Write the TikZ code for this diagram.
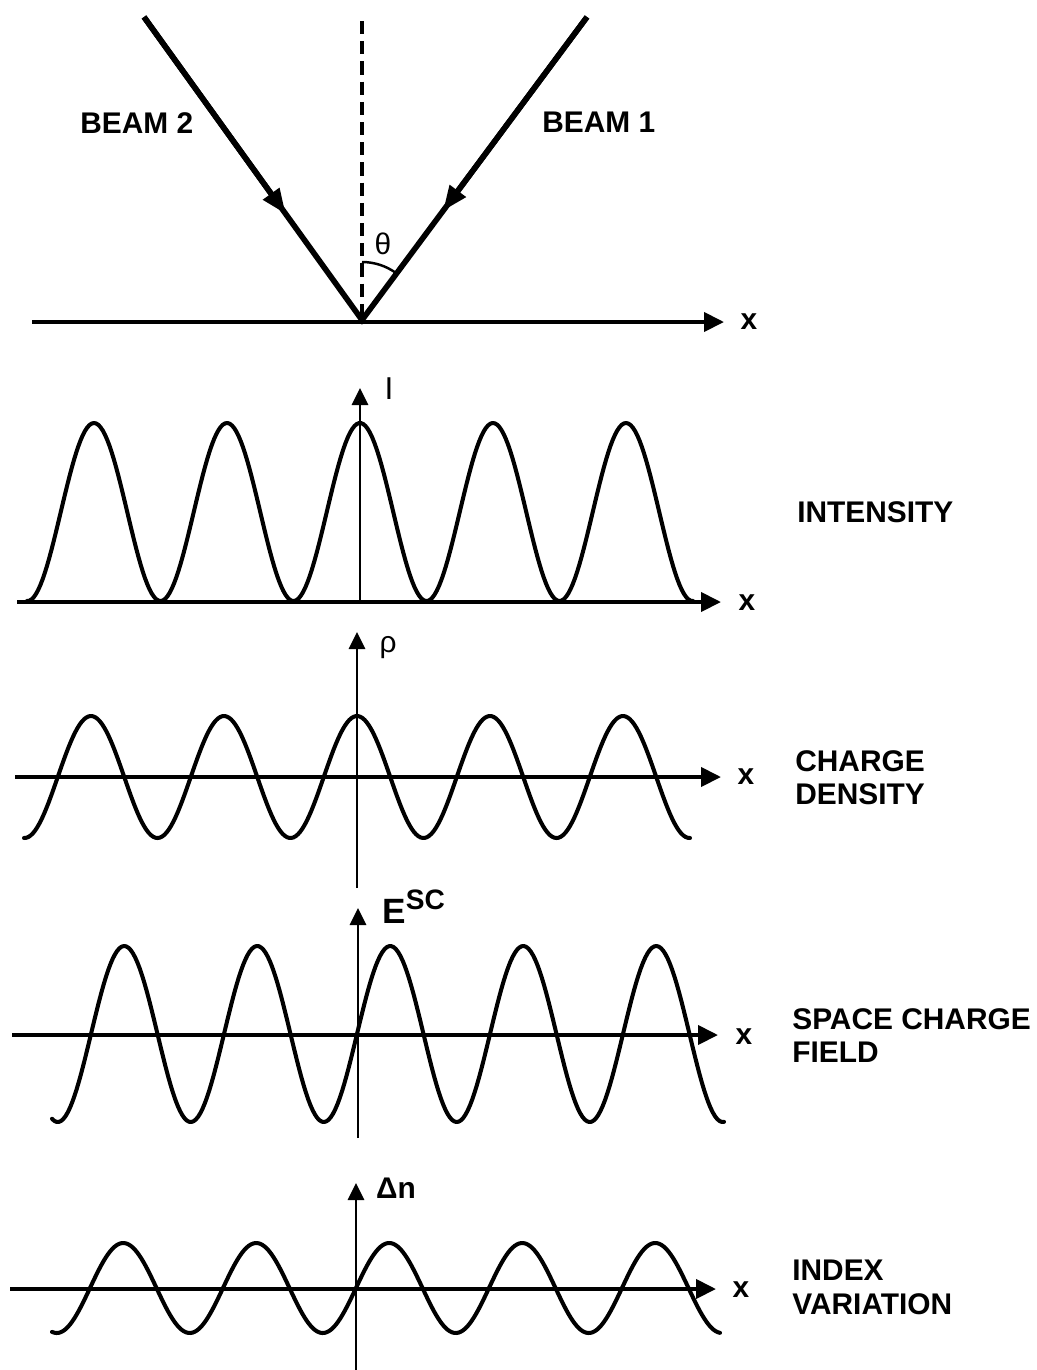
\documentclass[tikz,border=0pt]{standalone}
\usepackage{fontspec}
\setmainfont{Liberation Sans}
\usetikzlibrary{arrows.meta,calc}

\begin{document}
\begin{tikzpicture}[x=0.02cm, y=-0.02cm,
  beam/.style={line width=3.2pt, line join=miter},
  haxis/.style={line width=2.3pt, -{Triangle[length=0.4cm,width=0.38cm]}},
  vaxis/.style={line width=1.7pt, -{Triangle[length=0.34cm,width=0.32cm]}},
  wave/.style={line width=2.3pt, line join=round, line cap=round},
  caption/.style={anchor=north west, inner sep=0pt, align=left, font=\fontsize{17}{19}\selectfont\bfseries},
  xlab/.style={inner sep=0pt, font=\fontsize{17}{17}\selectfont\bfseries}]
  \useasboundingbox (0,0) rectangle (1037,1370);

  % incident beams
  \coordinate (o) at (362,320);
  \coordinate (b2) at (144,17);
  \coordinate (b1) at (587,17);
  \coordinate (top) at (362,21);
  \coordinate (b2m) at ($(b2)!0.65!(o)$);
  \coordinate (b1m) at ($(b1)!0.64!(o)$);
  \draw[beam] (b2) -- (o) -- (b1);
  \draw[beam, -{Triangle[length=0.5cm,width=0.38cm]}] (b2) -- (b2m);
  \draw[beam, -{Triangle[length=0.5cm,width=0.38cm]}] (b1) -- (b1m);
  \draw[line width=1.8pt, dash pattern=on 7.5pt off 4pt] (top) -- (o);
  \draw[line width=1.4pt] ($(o)+(0,-58)$) arc[start angle=90, end angle=53.4, radius=1.16cm];
  \node[font=\fontsize{17}{17}\selectfont] (thlab) at (383,244) {θ};
  \node[caption] (beamtwo) at (80,112) {BEAM 2};
  \node[caption] (beamone) at (542,112) {BEAM 1};
  \draw[haxis] (32,322) -- (724,322);
  \node[xlab] (x0) at (749,322) {x};

  % intensity
  \draw[wave] plot[domain=27:693, samples=300] (\x, {601-178*(0.5+0.5*cos(2.7068*(\x-360)))});
  \draw[haxis] (17,602) -- (721,602);
  \draw[vaxis] (360,602) -- (360,388);
  \node[font=\fontsize{18}{18}\selectfont] (ilab) at (389,389) {I};
  \node[xlab] (x1) at (747,603) {x};
  \node[caption] (intens) at (797,501) {INTENSITY};

  % charge density
  \draw[wave] plot[domain=24:690, samples=300] (\x, {777-61*cos(2.7068*(\x-357))});
  \draw[haxis] (15,777) -- (721,777);
  \draw[vaxis] (357,888) -- (357,632);
  \node[font=\fontsize{17}{17}\selectfont] (rholab) at (388,648) {ρ};
  \node[xlab] (x2) at (746,777) {x};
  \node[caption] (charge) at (795,750) {CHARGE\\DENSITY};

  % space charge field
  \draw[wave] plot[domain=52:724, samples=300] (\x, {1034-88*sin(2.7068*(\x-357))});
  \draw[haxis] (12,1035) -- (718,1035);
  \draw[vaxis] (358,1138) -- (358,908);
  \node[anchor=base west, inner sep=0pt, font=\fontsize{20}{20}\selectfont\bfseries] (elab) at (382,923) {E\raisebox{7.5pt}{\fontsize{16}{16}\selectfont SC}};
  \node[xlab] (x3) at (744,1037) {x};
  \node[caption] (field) at (792,1008) {SPACE CHARGE\\FIELD};

  % index variation
  \draw[wave] plot[domain=52:720, samples=300] (\x, {1288-45*sin(2.7068*(\x-356))});
  \draw[haxis] (10,1289) -- (716,1289);
  \draw[vaxis] (356,1370) -- (356,1183);
  \node[font=\fontsize{17}{17}\selectfont\bfseries] (dnlab) at (396,1188) {Δn};
  \node[xlab] (x4) at (741,1290) {x};
  \node[caption] (index) at (792,1260) {INDEX\\VARIATION};
\end{tikzpicture}
\end{document}
